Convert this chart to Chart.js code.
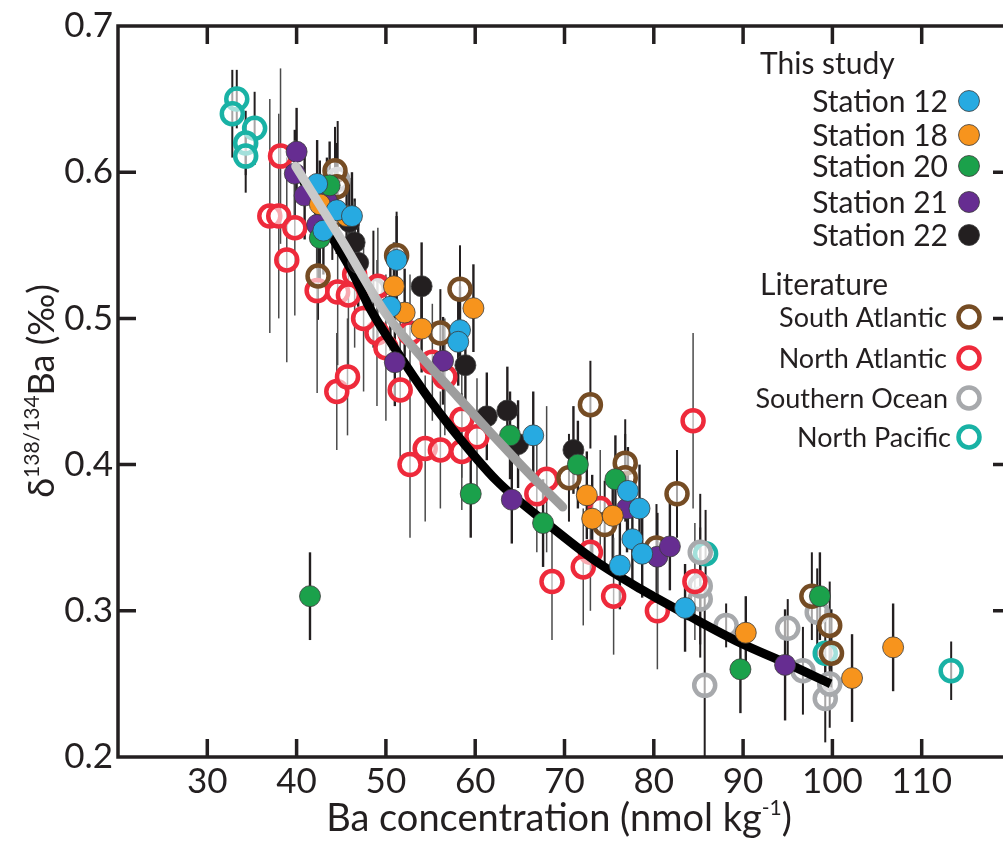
<!DOCTYPE html>
<html>
<head>
<meta charset="utf-8">
<title>Ba isotopes vs Ba concentration</title>
<script src="https://cdn.jsdelivr.net/npm/chart.js@4.4.1/dist/chart.umd.min.js"></script>
<style>
  html, body { margin: 0; padding: 0; background: #fff; overflow: hidden; }
  canvas { display: block; }
</style>
</head>
<body>
<canvas id="chart" width="1016" height="845"></canvas>
<script>
// ticks
const xTicks = [30, 40, 50, 60, 70, 80, 90, 100, 110];
const yTicks = [0.2, 0.3, 0.4, 0.5, 0.6, 0.7];

// [Ba nmol/kg, d138/134Ba permil, 2sd]
const station12 = [[42.3,0.592,0.03],[44.5,0.574,0.03],[46.2,0.570,0.03],[51.2,0.540,0.03],[50.5,0.508,0.03],
  [58.3,0.492,0.03],[58.1,0.484,0.03],[66.5,0.420,0.03],[77.1,0.382,0.03],[78.4,0.370,0.03],[77.6,0.349,0.03],
  [78.7,0.339,0.03],[76.2,0.331,0.03],[83.5,0.302,0.03],[43.0,0.560,0.03]];
const station18 = [[45.6,0.570,0.03],[42.6,0.578,0.03],[50.9,0.522,0.03],[52.1,0.504,0.03],[54.0,0.493,0.03],
  [59.8,0.507,0.03],[72.5,0.379,0.03],[73.1,0.363,0.03],[75.4,0.365,0.03],[90.3,0.285,0.025],[102.2,0.254,0.03],
  [106.8,0.275,0.03]];
const station20 = [[43.7,0.591,0.03],[42.6,0.555,0.03],[41.5,0.310,0.03],[63.9,0.420,0.03],[59.5,0.380,0.03],
  [67.6,0.360,0.03],[71.5,0.400,0.03],[75.7,0.390,0.03],[89.7,0.260,0.03],[98.6,0.310,0.03]];
const station21 = [[40.0,0.614,0.03],[39.8,0.599,0.03],[40.9,0.584,0.03],[43.4,0.580,0.03],[42.3,0.564,0.03],
  [56.4,0.471,0.03],[51.0,0.470,0.03],[64.1,0.376,0.03],[77.0,0.370,0.03],[80.4,0.337,0.03],[81.8,0.344,0.03],
  [94.7,0.263,0.038]];
const station22 = [[46.5,0.552,0.03],[46.9,0.538,0.03],[45.9,0.566,0.03],[54.0,0.522,0.03],[58.9,0.468,0.03],
  [61.3,0.433,0.03],[63.6,0.437,0.03],[64.8,0.414,0.03],[71.0,0.410,0.03]];

const southAtlantic = [[44.3,0.601,0.03],[44.5,0.590,0.03],[42.4,0.529,0.03],[51.2,0.543,0.03],[58.3,0.520,0.03],
  [56.1,0.490,0.03],[72.9,0.441,0.03],[70.5,0.391,0.03],[76.8,0.401,0.03],[76.8,0.391,0.03],[82.6,0.380,0.03],
  [74.5,0.359,0.03],[80.3,0.343,0.03],[97.7,0.310,0.03],[99.7,0.290,0.03],[99.9,0.271,0.03],[44.0,0.570,0.03]];
const northAtlantic = [[38.2,0.611,0.06],[37.0,0.570,0.08],[38.0,0.570,0.07],[39.8,0.562,0.06],[38.9,0.540,0.07],
  [42.3,0.519,0.07],[44.6,0.518,0.05],[45.8,0.516,0.05],[49.1,0.522,0.04],[49.0,0.490,0.05],[50.0,0.480,0.05],
  [52.7,0.490,0.04],[55.2,0.470,0.04],[56.6,0.460,0.04],[51.6,0.451,0.05],[44.5,0.450,0.04],[45.7,0.460,0.04],
  [58.5,0.431,0.04],[60.2,0.419,0.04],[54.4,0.411,0.05],[56.1,0.410,0.04],[58.5,0.409,0.04],[52.7,0.400,0.05],
  [68.0,0.390,0.05],[66.9,0.380,0.04],[74.0,0.370,0.04],[72.9,0.340,0.04],[72.1,0.330,0.04],[68.6,0.320,0.04],
  [75.5,0.310,0.04],[84.4,0.430,0.06],[84.6,0.320,0.04],[80.4,0.300,0.04],[46.5,0.530,0.05],[47.5,0.500,0.05]];
const southernOcean = [[85.7,0.249,0.07],[88.1,0.290,0.015],[95.0,0.288,0.02],[96.7,0.259,0.03],[99.2,0.240,0.03],
  [99.7,0.250,0.03],[98.3,0.299,0.03],[85.2,0.308,0.04],[85.2,0.317,0.04],[85.2,0.340,0.04],[48.6,0.520,0.04],
  [44.6,0.595,0.04]];
const northPacific = [[33.3,0.650,0.02],[32.8,0.640,0.03],[35.3,0.630,0.025],[34.3,0.620,0.022],[34.3,0.611,0.025],
  [85.8,0.339,0.03],[99.2,0.271,0.03],[113.3,0.259,0.02]];

// fitted curves
const fitBlackBa = [40.3, 43.0, 46.3, 48.2, 51.6, 54.6, 57.2, 62.4, 68.4, 73.5, 78.5, 84.1, 89.7, 94.9, 99.8];
const fitBlackD  = [0.600, 0.566, 0.531, 0.507, 0.474, 0.447, 0.426, 0.389, 0.358, 0.334, 0.315, 0.296, 0.278, 0.264, 0.250];
const fitGrayBa = [39.9, 45.1, 49.9, 53.5, 57.5, 62.0, 66.5, 69.8];
const fitGrayD  = [0.604, 0.553, 0.504, 0.477, 0.450, 0.420, 0.391, 0.371];

const stationNames = ['Station 12', 'Station 18', 'Station 20', 'Station 21', 'Station 22'];
const literatureNames = ['South Atlantic', 'North Atlantic', 'Southern Ocean', 'North Pacific'];

const INK = '#231f20';
const stationColors = ['#27aae1', '#f7941d', '#1ba14b', '#662d91', '#231f20'];
const literatureColors = ['#754c24', '#ee2a3b', '#a7a9ac', '#19b2a5'];
const FONT = 'Lato, "Open Sans", sans-serif';

const toPts = (arr) => arr.map(([x, y, e]) => ({ x, y, e }));
const toLine = (xs, ys) => xs.map((x, i) => ({ x, y: ys[i] }));

const stationSets = [station12, station18, station20, station21, station22];
const literatureSets = [southAtlantic, northAtlantic, southernOcean, northPacific];

const datasets = [];

// lower order = drawn on top
datasets.push({
  label: 'fit all',
  data: toLine(fitBlackBa, fitBlackD),
  showLine: true,
  borderColor: '#000',
  borderWidth: 9,
  borderCapStyle: 'butt',
  pointRadius: 0,
  cubicInterpolationMode: 'monotone',
  order: 1.5,
});
datasets.push({
  label: 'fit southern',
  data: toLine(fitGrayBa, fitGrayD),
  showLine: true,
  borderColor: (c) => {
    const chart = c.chart;
    if (!chart.chartArea) return '#a0a0a0';
    const xs = chart.scales.x;
    const g = chart.ctx.createLinearGradient(xs.getPixelForValue(47), 0, xs.getPixelForValue(54), 0);
    g.addColorStop(0, '#c9c9c9');
    g.addColorStop(1, '#9d9d9d');
    return g;
  },
  borderWidth: 9,
  borderCapStyle: 'round',
  pointRadius: 0,
  cubicInterpolationMode: 'monotone',
  order: 0,
});

stationSets.forEach((s, i) => {
  datasets.push({
    label: stationNames[i],
    data: toPts(s),
    backgroundColor: stationColors[i],
    borderColor: '#3b3b3b',
    borderWidth: 0.8,
    pointRadius: 10.5,
    errColor: INK,
    errWidth: 2.4,
    order: 1,
  });
});

literatureSets.forEach((s, i) => {
  datasets.push({
    label: literatureNames[i],
    data: toPts(s),
    backgroundColor: 'rgba(255,255,255,0.6)',
    borderColor: literatureColors[i],
    borderWidth: 4.5,
    pointRadius: 10.5,
    errColor: i === 1 ? '#4a4a4a' : INK,
    errWidth: i === 1 ? 1.5 : 2,
    order: 2,
  });
});

// error bars behind the points
const errorBars = {
  id: 'errorBars',
  beforeDatasetsDraw(chart) {
    const { ctx, chartArea, scales } = chart;
    ctx.save();
    ctx.beginPath();
    ctx.rect(chartArea.left, chartArea.top, chartArea.right - chartArea.left, chartArea.bottom - chartArea.top);
    ctx.clip();
    chart.data.datasets.forEach((ds) => {
      if (!ds.errColor) return;
      ctx.strokeStyle = ds.errColor;
      ctx.lineWidth = ds.errWidth;
      ds.data.forEach((p) => {
        const x = scales.x.getPixelForValue(p.x);
        ctx.beginPath();
        ctx.moveTo(x, scales.y.getPixelForValue(p.y - p.e));
        ctx.lineTo(x, scales.y.getPixelForValue(p.y + p.e));
        ctx.stroke();
      });
    });
    ctx.restore();
  },
};

// box with inward ticks
const frame = {
  id: 'frame',
  afterDatasetsDraw(chart) {
    const { ctx, chartArea: a, scales } = chart;
    const tl = 18;
    ctx.save();
    ctx.strokeStyle = INK;
    ctx.lineWidth = 3.5;
    ctx.lineCap = 'square';
    ctx.strokeRect(a.left, a.top, a.right - a.left, a.bottom - a.top);
    ctx.lineCap = 'butt';
    ctx.beginPath();
    xTicks.forEach((v) => {
      const x = scales.x.getPixelForValue(v);
      ctx.moveTo(x, a.bottom); ctx.lineTo(x, a.bottom - tl);
      ctx.moveTo(x, a.top); ctx.lineTo(x, a.top + tl);
    });
    yTicks.slice(1, -1).forEach((v) => {
      const y = scales.y.getPixelForValue(v);
      ctx.moveTo(a.left, y); ctx.lineTo(a.left + tl, y);
      ctx.moveTo(a.right, y); ctx.lineTo(a.right - tl, y);
    });
    ctx.stroke();
    ctx.restore();
  },
};

function drawParts(ctx, parts, cx, y) {
  let w = 0;
  parts.forEach((p) => { ctx.font = p.size + 'px ' + FONT; w += ctx.measureText(p.t).width; });
  let x = cx - w / 2;
  parts.forEach((p) => {
    ctx.font = p.size + 'px ' + FONT;
    ctx.fillText(p.t, x, y + (p.dy || 0));
    x += ctx.measureText(p.t).width;
  });
}

const titlesAndLegend = {
  id: 'titlesAndLegend',
  afterDraw(chart) {
    const ctx = chart.ctx;
    ctx.save();
    ctx.fillStyle = INK;
    ctx.textBaseline = 'alphabetic';
    ctx.textAlign = 'left';

    // x title
    drawParts(ctx, [
      { t: 'Ba concentration (nmol kg', size: 38 },
      { t: '-1', size: 21, dy: -16 },
      { t: ')', size: 38 },
    ], 559, 831);

    // y title
    ctx.save();
    ctx.translate(54, 391);
    ctx.rotate(-Math.PI / 2);
    drawParts(ctx, [
      { t: 'δ', size: 36 },
      { t: '138/134', size: 21, dy: -15 },
      { t: 'Ba (‰)', size: 36 },
    ], 0, 0);
    ctx.restore();

    // legend
    ctx.font = '30px ' + FONT;
    ctx.fillText('This study', 760, 74);
    ctx.fillText('Literature', 760, 295);

    const stY = [101, 135, 166, 202, 235];
    ctx.textAlign = 'right';
    stationNames.forEach((n, i) => {
      ctx.font = '30px ' + FONT;
      ctx.fillStyle = INK;
      ctx.fillText(n, 948, stY[i] + 11);
      ctx.beginPath();
      ctx.arc(969, stY[i], 10.5, 0, Math.PI * 2);
      ctx.fillStyle = stationColors[i];
      ctx.fill();
      ctx.lineWidth = 0.8;
      ctx.strokeStyle = '#3b3b3b';
      ctx.stroke();
    });

    const litY = [317, 358, 398, 437];
    const litRight = [947, 947, 948, 951];
    literatureNames.forEach((n, i) => {
      ctx.font = '27px ' + FONT;
      ctx.fillStyle = INK;
      ctx.fillText(n, litRight[i], litY[i] + 10);
      ctx.beginPath();
      ctx.arc(969, litY[i], 10.5, 0, Math.PI * 2);
      ctx.fillStyle = '#fff';
      ctx.fill();
      ctx.lineWidth = 4.5;
      ctx.strokeStyle = literatureColors[i];
      ctx.stroke();
    });
    ctx.restore();
  },
};

new Chart(document.getElementById('chart'), {
  type: 'scatter',
  data: { datasets },
  options: {
    responsive: false,
    animation: false,
    events: [],
    layout: { autoPadding: false, padding: { top: 22, right: 5, left: 0, bottom: 0 } },
    plugins: { legend: { display: false }, tooltip: { enabled: false } },
    scales: {
      x: {
        type: 'linear',
        min: 20,
        max: 120,
        afterBuildTicks: (s) => { s.ticks = xTicks.map((v) => ({ value: v })); },
        afterFit: (s) => { s.height = 88; },
        grid: { display: false, drawTicks: false },
        border: { display: false },
        ticks: { font: { family: FONT, size: 35 }, color: INK, padding: 4, maxRotation: 0, autoSkip: false },
      },
      y: {
        type: 'linear',
        min: 0.2,
        max: 0.7,
        afterBuildTicks: (s) => { s.ticks = yTicks.map((v) => ({ value: v })); },
        afterFit: (s) => { s.width = 118; },
        grid: { display: false, drawTicks: false },
        border: { display: false },
        ticks: { font: { family: FONT, size: 35 }, color: INK, padding: 5, autoSkip: false,
          callback: (v) => Number(v).toFixed(1) },
      },
    },
  },
  plugins: [errorBars, frame, titlesAndLegend],
});
</script>
</body>
</html>
